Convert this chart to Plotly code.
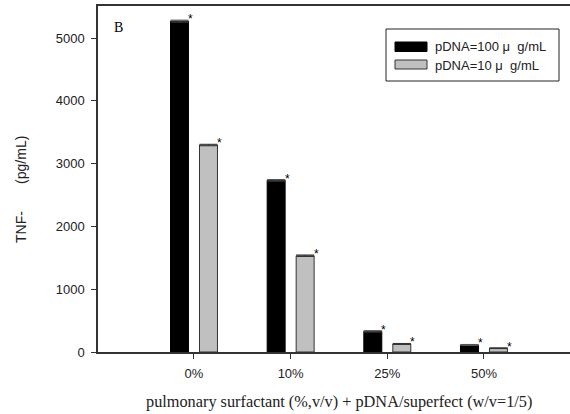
import plotly.graph_objects as go

categories = ["0%", "10%", "25%", "50%"]
series_names = ["pDNA=100 μ  g/mL", "pDNA=10 μ  g/mL"]
high_dose = [5270, 2735, 330, 112]
low_dose = [3296, 1533, 128, 60]
high_err = [15, 12, 10, 8]
low_err = [12, 12, 8, 6]
y_ticks = [0, 1000, 2000, 3000, 4000, 5000]

xpos = list(range(1, len(categories) + 1))
BW = 0.186
OFF = 0.15

fig = go.Figure()
fig.add_trace(go.Bar(
    x=xpos, y=high_dose, name=series_names[0], width=BW, offset=-OFF - BW / 2,
    marker=dict(color="black", line=dict(color="black", width=1)),
    error_y=dict(type="data", array=high_err, color="#555", thickness=1, width=9),
    showlegend=False,
))
fig.add_trace(go.Bar(
    x=xpos, y=low_dose, name=series_names[1], width=BW, offset=OFF - BW / 2,
    marker=dict(color="#c0c0c0", line=dict(color="#333", width=1)),
    error_y=dict(type="data", array=low_err, color="#333", thickness=1, width=9),
    showlegend=False,
))

L, R, T, B = 98, 0, 6, 62
W, H = 570, 414

def px_x(p):
    return (p - L) / (W - L - R)

def px_y(p):
    return (H - p - B) / (H - T - B)

annotations = []
for i, x in enumerate(xpos):
    for vals, errs, sign in ((high_dose, high_err, -1), (low_dose, low_err, 1)):
        annotations.append(dict(
            x=x + sign * OFF + BW / 2, y=vals[i] + errs[i], xref="x", yref="y",
            text="*", showarrow=False, xanchor="center", yanchor="middle",
            xshift=2, yshift=1, font=dict(family="Liberation Sans, Arial", size=12, color="black"),
        ))

# panel label
annotations.append(dict(x=px_x(112), y=px_y(27.5), xref="paper", yref="paper", text="B",
                        showarrow=False, xanchor="left", yanchor="middle",
                        font=dict(family="Liberation Serif, Times New Roman", size=14, color="black")))

# axis titles
annotations.append(dict(x=px_x(21), y=px_y(190), xref="paper", yref="paper",
                        text="TNF-       (pg/mL)", textangle=-90, showarrow=False,
                        xanchor="center", yanchor="middle",
                        font=dict(family="Liberation Sans, Arial", size=14, color="#222")))
annotations.append(dict(x=px_x(339), y=px_y(401), xref="paper", yref="paper",
                        text="pulmonary surfactant (%,v/v) + pDNA/superfect (w/v=1/5)",
                        showarrow=False, xanchor="center", yanchor="middle",
                        font=dict(family="Liberation Serif, Times New Roman", size=16.3, color="#222")))

# legend (drawn manually)
shapes = [
    dict(type="rect", xref="paper", yref="paper", x0=px_x(386), x1=px_x(559),
         y0=px_y(81), y1=px_y(29), line=dict(color="#222", width=1), fillcolor="white"),
    dict(type="rect", xref="paper", yref="paper", x0=px_x(395), x1=px_x(427),
         y0=px_y(51.5), y1=px_y(42), line=dict(color="black", width=1), fillcolor="black"),
    dict(type="rect", xref="paper", yref="paper", x0=px_x(395), x1=px_x(427),
         y0=px_y(69), y1=px_y(60), line=dict(color="#333", width=1), fillcolor="#c0c0c0"),
]
for name, yc in zip(series_names, [47, 65]):
    annotations.append(dict(x=px_x(433), y=px_y(yc), xref="paper", yref="paper",
                            text=name, showarrow=False, xanchor="left", yanchor="middle",
                            font=dict(family="Liberation Sans, Arial", size=13, color="#222")))

fig.update_layout(
    width=W, height=H,
    margin=dict(l=L, r=R, t=T, b=B),
    paper_bgcolor="white", plot_bgcolor="white",
    barmode="overlay",
    font=dict(family="Liberation Sans, Arial", size=13, color="#222"),
    xaxis=dict(range=[0.007, 4.89], tickvals=xpos, ticktext=categories,
               showline=True, linecolor="#333", linewidth=1.5, mirror=True,
               ticks="outside", ticklen=5, tickcolor="#333", showgrid=False,
               zeroline=False, tickfont=dict(size=13), ticklabelstandoff=4),
    yaxis=dict(range=[0, 5510], tickvals=y_ticks,
               showline=True, linecolor="#333", linewidth=1.5,
               ticks="outside", ticklen=5, tickcolor="#333", showgrid=False,
               zeroline=False, tickfont=dict(size=13), ticklabelstandoff=4),
    showlegend=False,
    annotations=annotations,
    shapes=shapes,
)
fig.write_html("out.html")
